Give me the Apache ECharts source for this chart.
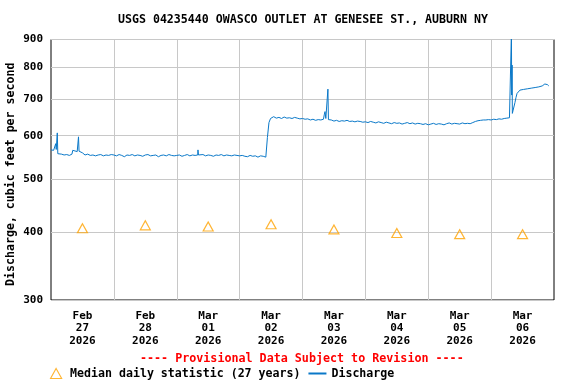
<!DOCTYPE html>
<html><head><meta charset="utf-8">
<script src="https://cdn.jsdelivr.net/npm/echarts@6/dist/echarts.min.js"></script>
<style>html,body{margin:0;padding:0;background:#fff}#c{width:576px;height:384px}</style>
</head><body><div id="c"></div>
<script>
const FONT = '"DejaVu Sans Mono", monospace';
const titleText = 'USGS 04235440 OWASCO OUTLET AT GENESEE ST., AUBURN NY';
const yAxisTitle = 'Discharge, cubic feet per second';
const provisionalText = '---- Provisional Data Subject to Revision ----';
const medianName = 'Median daily statistic (27 years)';
const dischargeName = 'Discharge';
const yTicks = [300, 400, 500, 600, 700, 800, 900];
const monthNames = ['Jan','Feb','Mar','Apr','May','Jun','Jul','Aug','Sep','Oct','Nov','Dec'];
// days shown (UTC), Feb 27 .. Mar 06 2026
const dayStarts = [[2026,1,27],[2026,1,28],[2026,2,1],[2026,2,2],[2026,2,3],[2026,2,4],[2026,2,5],[2026,2,6]];
const axisEnd = [2026,2,7];
// median daily statistic, one per day (plotted at noon)
const medianValues = [406, 411, 409, 413, 404, 398, 396, 396];
// discharge readings: [hours since Feb 27 00:00, cfs]
const discharge = [
 [0,565],[0.5,562],[1,564],[1.6,563],[1.8,580],[2.0,566],[2.4,607],[2.6,556],[3,554],[4,555],[5,553],[6,554],[7,552],[8,555],[8.3,564],[9,563],[10,561],[10.5,597],[10.7,562],[11,560],[12,558],[12.5,554],[13,553],[14,555],[15,552],[16,553],[17,551],[18,553],[19,554],[20,551],[21,553],[22,552],[23,554],
 [24,553],[25,551],[26,554],[27,552],[28,549],[29,553],[30,552],[31,554],[32,551],[33,553],[34,552],[35,550],[36,553],[37,554],[38,551],[39,552],[40,553],[41,549],[42,552],[43,553],[44,551],[45,554],[46,552],[47,551],
 [48,552],[49,553],[50,550],[51,552],[52,554],[53,551],[54,553],[55,552],[56,553],[56.1,565],[56.3,553],[57,552],[58,554],[59,551],[60,553],[61,552],[62,550],[63,553],[64,552],[65,554],[66,551],[67,553],[68,552],[69,551],[70,553],[71,552],
 [72,551],[73,552],[74,550],[75,549],[76,552],[77,550],[78,551],[79,548],[80,551],[81,550],[82,548],[82.2,550],[82.6,595],[83.2,634],[83.8,645],[84.2,648],[85,650],[86,646],[87,648],[88,645],[89,649],[90,646],[91,647],[92,645],[93,648],[94,646],[95,644],
 [96,645],[97,643],[98,644],[99,641],[100,643],[101,640],[102,642],[103,641],[104,643],[104.3,655],[104.6,664],[104.9,645],[105.3,650],[105.7,730],[105.9,642],[106.5,640],[107,641],[108,638],[109,640],[110,637],[111,639],[112,638],[113,640],[114,637],[115,638],[116,636],[117,638],[118,637],[119,635],
 [120,636],[121,634],[122,637],[123,635],[124,633],[125,636],[126,634],[127,632],[128,635],[129,633],[130,631],[131,634],[132,632],[133,633],[134,630],[135,632],[136,634],[137,631],[138,633],[139,630],[140,632],[141,631],[142,629],[143,631],
 [144,628],[145,630],[146,632],[147,629],[148,631],[149,630],[150,628],[151,631],[152,633],[153,630],[154,632],[155,631],[156,630],[157,633],[158,631],[159,632],[160,631],[161,634],[162,637],[163,639],[164,640],[165,641],[166,641],[167,642],
 [168,641],[169,643],[170,642],[171,644],[172,643],[173,645],[174,646],[175,647],[175.6,649],[175.75,930],[175.85,712],[176.0,808],[176.1,659],[176.4,668],[176.8,664],[177.1,690],[177.5,705],[177.9,717],[178.4,722],[179,727],[179.6,725],[180.3,729],[181,728],[181.8,731],[182.5,730],[183.3,733],[184,732],[184.8,735],[185.5,734],[186.2,737],[186.8,735],[187.5,740],[188,738],[188.5,746],[189,741],[189.5,744],[190,740]
];

const HOUR = 3600 * 1000;
const t0 = Date.UTC(dayStarts[0][0], dayStarts[0][1], dayStarts[0][2]);
const tEnd = Date.UTC(axisEnd[0], axisEnd[1], axisEnd[2]);
const midnights = dayStarts.slice(1).map(d => Date.UTC(d[0], d[1], d[2]));
const noons = dayStarts.map(d => Date.UTC(d[0], d[1], d[2]) + 12 * HOUR);
const dischargeData = discharge.map(p => [t0 + p[0] * HOUR, p[1]]);
const medianData = noons.map((t, i) => [t, medianValues[i]]);

const ORANGE = '#FFA200';
const BLUE = '#0A78C8';

const chart = echarts.init(document.getElementById('c'), null, {renderer: 'canvas'});
chart.setOption({
  animation: false,
  backgroundColor: '#fff',
  title: {
    text: titleText, left: 118, top: 14, padding: 0,
    textStyle: {fontFamily: FONT, fontSize: 11.6, fontWeight: 'bold', color: '#000'}
  },
  graphic: [{
    type: 'text', left: 140, top: 353,
    style: {text: provisionalText, fill: '#FF0000', font: 'bold 11.7px ' + FONT}
  }],
  legend: {
    left: 50, top: 367.5, padding: 0, itemWidth: 18, itemHeight: 10, itemGap: 8,
    selectedMode: false,
    textStyle: {fontFamily: FONT, fontSize: 11.6, fontWeight: 'bold', color: '#000'},
    data: [
      {name: medianName, icon: 'path://M5,0L10,9L0,9Z',
       itemStyle: {color: 'rgba(0,0,0,0)', borderColor: ORANGE, borderWidth: 1.1}},
      {name: dischargeName, icon: 'path://M0,0L18,0L18,2L0,2Z',
       itemStyle: {color: BLUE, borderWidth: 0}}
    ]
  },
  grid: {left: 51, right: 22, top: 39.5, bottom: 84, show: true, borderColor: '#000', borderWidth: 1,
         backgroundColor: 'transparent', outerBoundsMode: 'none', containLabel: false},
  xAxis: {
    type: 'value', min: t0, max: tEnd, scale: true,
    axisLine: {show: false},
    axisTick: {show: false, customValues: midnights},
    splitLine: {show: true, lineStyle: {color: '#C8C8C8', width: 1}},
    axisLabel: {
      customValues: noons, margin: 10, color: '#000',
      fontFamily: FONT, fontSize: 11, fontWeight: 'bold', lineHeight: 12.4,
      hideOverlap: false,
      formatter: function (v) {
        const d = new Date(v);
        return monthNames[d.getUTCMonth()] + '\n' + String(d.getUTCDate()).padStart(2, '0') + '\n' + d.getUTCFullYear();
      }
    }
  },
  yAxis: {
    type: 'log', logBase: 10, min: 300, max: 900,
    name: yAxisTitle, nameLocation: 'middle', nameGap: 34, nameMoveOverlap: false,
    nameTextStyle: {fontFamily: FONT, fontSize: 11.6, fontWeight: 'bold', color: '#000', padding: [0, 9, 0, 0]},
    axisLine: {show: false},
    axisTick: {show: false, customValues: yTicks},
    splitLine: {show: true, lineStyle: {color: '#C8C8C8', width: 1}},
    axisLabel: {
      customValues: yTicks, margin: 8, color: '#000',
      fontFamily: FONT, fontSize: 11, fontWeight: 'bold',
      formatter: function (v) { return String(Math.round(v)); }
    }
  },
  series: [
    {
      name: medianName, type: 'scatter', data: medianData,
      symbol: 'triangle', symbolSize: [10, 9],
      itemStyle: {color: 'rgba(0,0,0,0)', borderColor: ORANGE, borderWidth: 1.2},
      emphasis: {disabled: true}, z: 3
    },
    {
      name: dischargeName, type: 'line', data: dischargeData,
      symbol: 'none', showSymbol: false, clip: true,
      lineStyle: {color: BLUE, width: 1},
      itemStyle: {color: BLUE},
      emphasis: {disabled: true}, z: 2
    }
  ]
});
</script>
</body></html>
